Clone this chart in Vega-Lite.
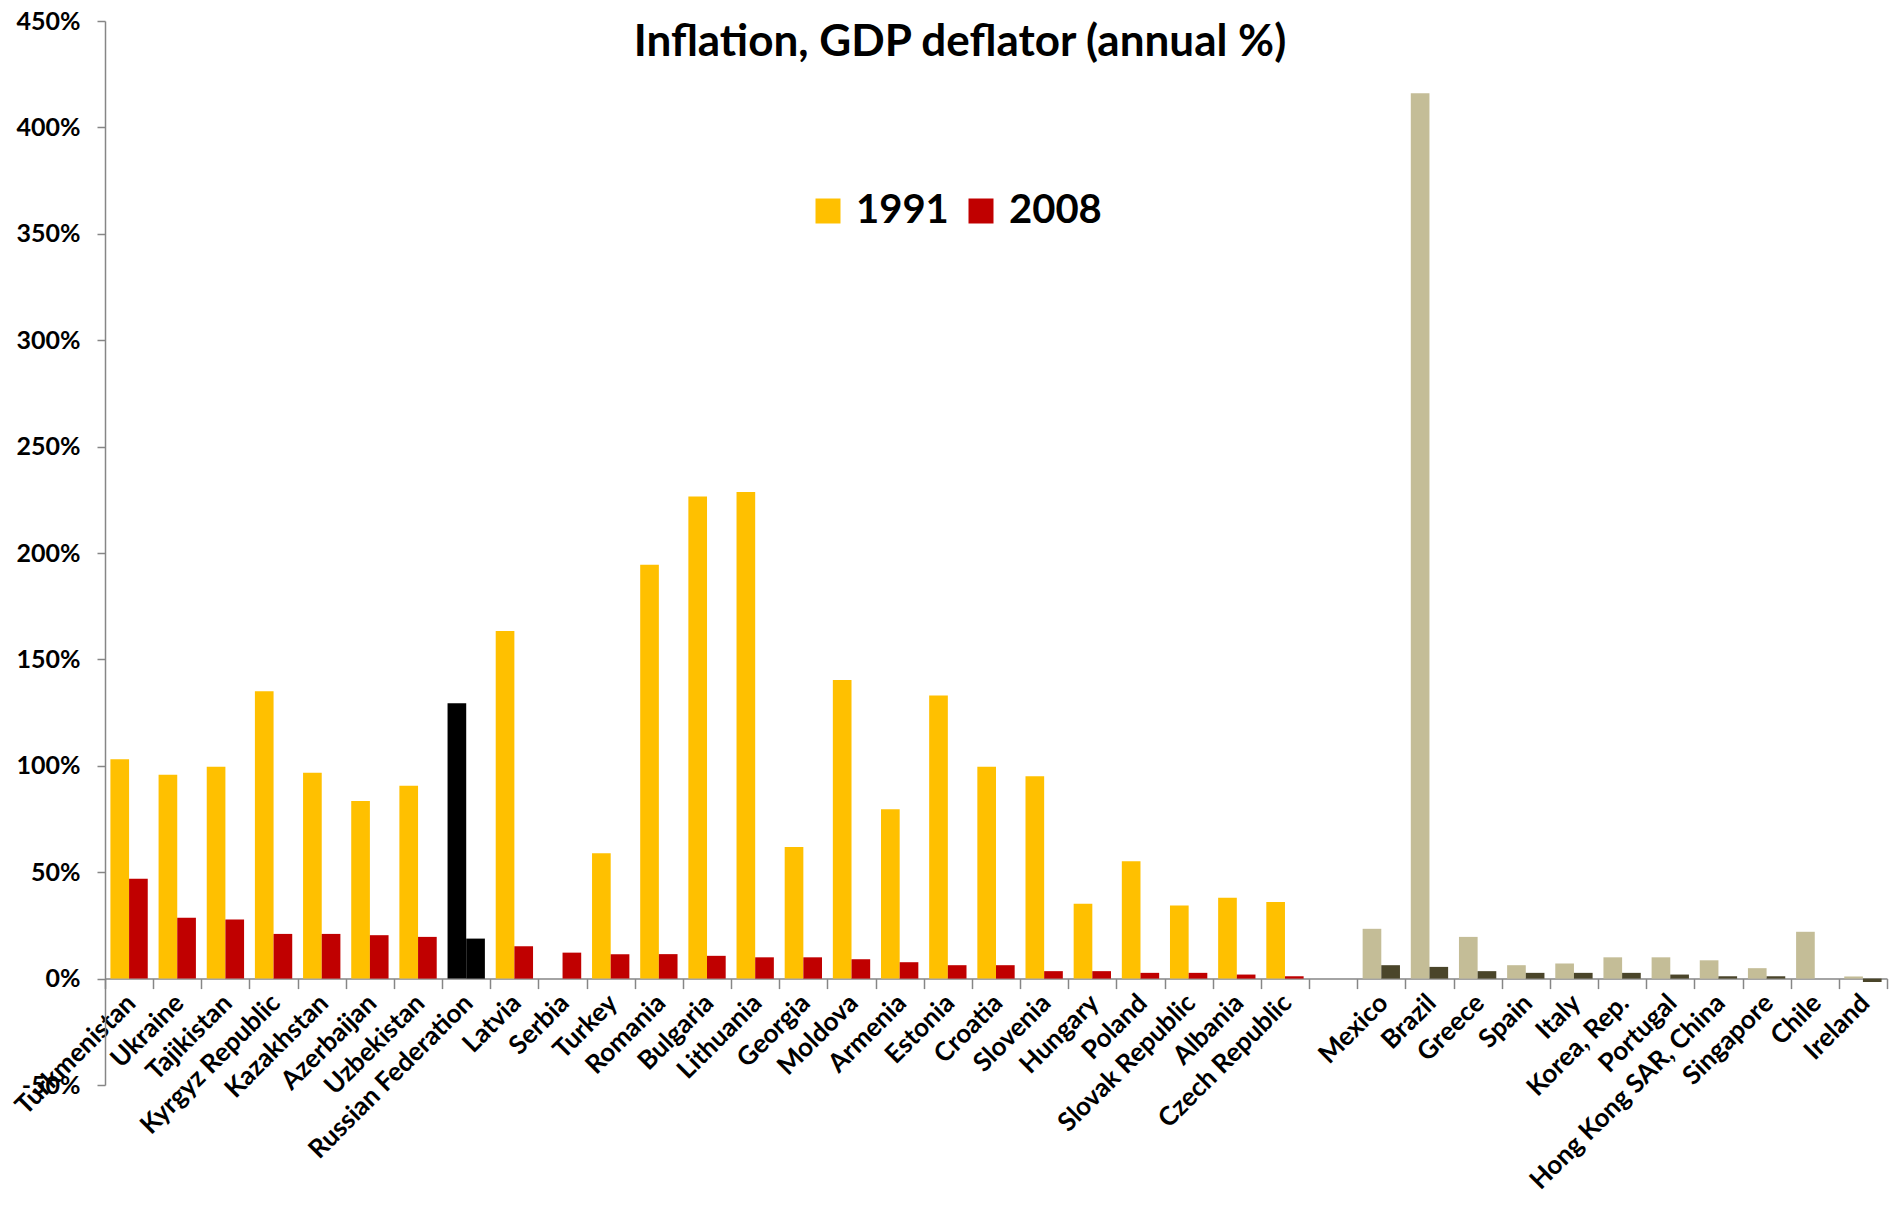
{
  "$schema": "https://vega.github.io/schema/vega-lite/v6.json",
  "autosize": "none",
  "width": 1782,
  "height": 1064,
  "padding": {"left": 105, "top": 21, "right": 8, "bottom": 124},
  "background": "white",
  "title": {
    "text": "Inflation, GDP deflator (annual %)",
    "font": "Lato",
    "fontSize": 44,
    "fontWeight": "bold",
    "color": "#000000",
    "anchor": "middle",
    "dx": -36,
    "dy": 60
  },
  "data": {
    "values": [
      {"country": "Turkmenistan", "group": "transition", "year": "1991", "value": 103.1},
      {"country": "Turkmenistan", "group": "transition", "year": "2008", "value": 46.9},
      {"country": "Ukraine", "group": "transition", "year": "1991", "value": 95.8},
      {"country": "Ukraine", "group": "transition", "year": "2008", "value": 28.6},
      {"country": "Tajikistan", "group": "transition", "year": "1991", "value": 99.5},
      {"country": "Tajikistan", "group": "transition", "year": "2008", "value": 27.8},
      {"country": "Kyrgyz Republic", "group": "transition", "year": "1991", "value": 135.0},
      {"country": "Kyrgyz Republic", "group": "transition", "year": "2008", "value": 21.0},
      {"country": "Kazakhstan", "group": "transition", "year": "1991", "value": 96.7},
      {"country": "Kazakhstan", "group": "transition", "year": "2008", "value": 21.0},
      {"country": "Azerbaijan", "group": "transition", "year": "1991", "value": 83.4},
      {"country": "Azerbaijan", "group": "transition", "year": "2008", "value": 20.4},
      {"country": "Uzbekistan", "group": "transition", "year": "1991", "value": 90.6},
      {"country": "Uzbekistan", "group": "transition", "year": "2008", "value": 19.6},
      {"country": "Russian Federation", "group": "transition", "year": "1991", "value": 129.4},
      {"country": "Russian Federation", "group": "transition", "year": "2008", "value": 18.8},
      {"country": "Latvia", "group": "transition", "year": "1991", "value": 163.3},
      {"country": "Latvia", "group": "transition", "year": "2008", "value": 15.2},
      {"country": "Serbia", "group": "transition", "year": "2008", "value": 12.2},
      {"country": "Turkey", "group": "transition", "year": "1991", "value": 58.9},
      {"country": "Turkey", "group": "transition", "year": "2008", "value": 11.5},
      {"country": "Romania", "group": "transition", "year": "1991", "value": 194.5},
      {"country": "Romania", "group": "transition", "year": "2008", "value": 11.5},
      {"country": "Bulgaria", "group": "transition", "year": "1991", "value": 226.6},
      {"country": "Bulgaria", "group": "transition", "year": "2008", "value": 10.7},
      {"country": "Lithuania", "group": "transition", "year": "1991", "value": 228.7},
      {"country": "Lithuania", "group": "transition", "year": "2008", "value": 10.0},
      {"country": "Georgia", "group": "transition", "year": "1991", "value": 61.9},
      {"country": "Georgia", "group": "transition", "year": "2008", "value": 10.0},
      {"country": "Moldova", "group": "transition", "year": "1991", "value": 140.3},
      {"country": "Moldova", "group": "transition", "year": "2008", "value": 9.1},
      {"country": "Armenia", "group": "transition", "year": "1991", "value": 79.6},
      {"country": "Armenia", "group": "transition", "year": "2008", "value": 7.7},
      {"country": "Estonia", "group": "transition", "year": "1991", "value": 133.0},
      {"country": "Estonia", "group": "transition", "year": "2008", "value": 6.3},
      {"country": "Croatia", "group": "transition", "year": "1991", "value": 99.5},
      {"country": "Croatia", "group": "transition", "year": "2008", "value": 6.3},
      {"country": "Slovenia", "group": "transition", "year": "1991", "value": 95.1},
      {"country": "Slovenia", "group": "transition", "year": "2008", "value": 3.5},
      {"country": "Hungary", "group": "transition", "year": "1991", "value": 35.2},
      {"country": "Hungary", "group": "transition", "year": "2008", "value": 3.5},
      {"country": "Poland", "group": "transition", "year": "1991", "value": 55.1},
      {"country": "Poland", "group": "transition", "year": "2008", "value": 2.7},
      {"country": "Slovak Republic", "group": "transition", "year": "1991", "value": 34.4},
      {"country": "Slovak Republic", "group": "transition", "year": "2008", "value": 2.7},
      {"country": "Albania", "group": "transition", "year": "1991", "value": 38.0},
      {"country": "Albania", "group": "transition", "year": "2008", "value": 1.9},
      {"country": "Czech Republic", "group": "transition", "year": "1991", "value": 36.0},
      {"country": "Czech Republic", "group": "transition", "year": "2008", "value": 1.1},
      {"country": "Mexico", "group": "comparison", "year": "1991", "value": 23.4},
      {"country": "Mexico", "group": "comparison", "year": "2008", "value": 6.3},
      {"country": "Brazil", "group": "comparison", "year": "1991", "value": 416.0},
      {"country": "Brazil", "group": "comparison", "year": "2008", "value": 5.5},
      {"country": "Greece", "group": "comparison", "year": "1991", "value": 19.6},
      {"country": "Greece", "group": "comparison", "year": "2008", "value": 3.5},
      {"country": "Spain", "group": "comparison", "year": "1991", "value": 6.3},
      {"country": "Spain", "group": "comparison", "year": "2008", "value": 2.7},
      {"country": "Italy", "group": "comparison", "year": "1991", "value": 7.1},
      {"country": "Italy", "group": "comparison", "year": "2008", "value": 2.7},
      {"country": "Korea, Rep.", "group": "comparison", "year": "1991", "value": 10.0},
      {"country": "Korea, Rep.", "group": "comparison", "year": "2008", "value": 2.7},
      {"country": "Portugal", "group": "comparison", "year": "1991", "value": 10.0},
      {"country": "Portugal", "group": "comparison", "year": "2008", "value": 1.9},
      {"country": "Hong Kong SAR, China", "group": "comparison", "year": "1991", "value": 8.6},
      {"country": "Hong Kong SAR, China", "group": "comparison", "year": "2008", "value": 1.1},
      {"country": "Singapore", "group": "comparison", "year": "1991", "value": 4.9},
      {"country": "Singapore", "group": "comparison", "year": "2008", "value": 1.1},
      {"country": "Chile", "group": "comparison", "year": "1991", "value": 22.0},
      {"country": "Ireland", "group": "comparison", "year": "1991", "value": 1.0},
      {"country": "Ireland", "group": "comparison", "year": "2008", "value": -1.6}
    ]
  },
  "mark": {"type": "bar"},
  "encoding": {
    "x": {
      "field": "country",
      "type": "nominal",
      "sort": null,
      "scale": {
        "domain": [
          "Turkmenistan", "Ukraine", "Tajikistan", "Kyrgyz Republic", "Kazakhstan",
          "Azerbaijan", "Uzbekistan", "Russian Federation", "Latvia", "Serbia",
          "Turkey", "Romania", "Bulgaria", "Lithuania", "Georgia", "Moldova",
          "Armenia", "Estonia", "Croatia", "Slovenia", "Hungary", "Poland",
          "Slovak Republic", "Albania", "Czech Republic", " ",
          "Mexico", "Brazil", "Greece", "Spain", "Italy", "Korea, Rep.",
          "Portugal", "Hong Kong SAR, China", "Singapore", "Chile", "Ireland"
        ],
        "paddingInner": 0,
        "paddingOuter": 0
      },
      "axis": {
        "title": null,
        "orient": "bottom",
        "offset": -106.4,
        "domainColor": "#868686",
        "domainWidth": 1.5,
        "tickColor": "#868686",
        "tickWidth": 1.5,
        "tickSize": 10,
        "tickBand": "extent",
        "labelAngle": -45,
        "labelAlign": "right",
        "labelBaseline": "middle",
        "labelFont": "Lato",
        "labelFontWeight": "bold",
        "labelFontSize": 26,
        "labelColor": "#000000",
        "labelPadding": 10,
        "labelOffset": 2,
        "labelOverlap": false,
        "labelLimit": 400,
        "labelBound": false
      }
    },
    "xOffset": {
      "field": "year",
      "type": "nominal",
      "scale": {"domain": ["1991", "2008"], "paddingInner": 0, "paddingOuter": 0.29}
    },
    "y": {
      "field": "value",
      "type": "quantitative",
      "scale": {"domain": [-50, 450], "nice": false},
      "axis": {
        "title": null,
        "values": [-50, 0, 50, 100, 150, 200, 250, 300, 350, 400, 450],
        "labelExpr": "datum.value + '%'",
        "grid": false,
        "domainColor": "#868686",
        "domainWidth": 1.5,
        "tickColor": "#868686",
        "tickWidth": 1.5,
        "tickSize": 8,
        "labelPadding": 17,
        "labelFont": "Lato",
        "labelFontWeight": "bold",
        "labelFontSize": 25,
        "labelColor": "#000000"
      }
    },
    "color": {
      "field": "year",
      "type": "nominal",
      "scale": {"domain": ["1991", "2008"], "range": ["#FFC000", "#C00000"]},
      "condition": [
        {"test": "datum.country === 'Russian Federation'", "value": "#000000"},
        {"test": "datum.group === 'comparison' && datum.year === '1991'", "value": "#C4BD97"},
        {"test": "datum.group === 'comparison'", "value": "#4A452A"}
      ],
      "legend": {
        "title": null,
        "orient": "none",
        "legendX": 703,
        "legendY": 170,
        "direction": "horizontal",
        "symbolType": "square",
        "symbolSize": 625,
        "symbolStrokeWidth": 0,
        "labelFont": "Lato",
        "labelFontSize": 40,
        "labelFontWeight": "bold",
        "labelColor": "#000000",
        "labelOffset": 8,
        "columnPadding": 12,
        "padding": 0
      }
    }
  },
  "config": {
    "view": {"stroke": null},
    "font": "Lato"
  }
}
